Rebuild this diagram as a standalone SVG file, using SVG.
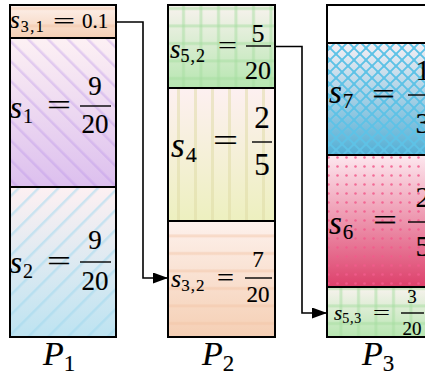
<svg xmlns="http://www.w3.org/2000/svg" width="425" height="378" viewBox="0 0 425 378">
<defs>
<linearGradient id="gPeach" x1="0" y1="0" x2="0" y2="1"><stop offset="0" stop-color="#fdf1ec"/><stop offset="1" stop-color="#f5cfb4"/></linearGradient>
<linearGradient id="gPurple" x1="0" y1="0" x2="0" y2="1"><stop offset="0" stop-color="#fdf1f4"/><stop offset="1" stop-color="#dcbfee"/></linearGradient>
<linearGradient id="gBlue" x1="0" y1="0" x2="0" y2="1"><stop offset="0" stop-color="#fdf0f2"/><stop offset="1" stop-color="#bde3f1"/></linearGradient>
<linearGradient id="gGreen" x1="0" y1="0" x2="0" y2="1"><stop offset="0" stop-color="#f8f2ee"/><stop offset="1" stop-color="#b6e6b0"/></linearGradient>
<linearGradient id="gYellow" x1="0" y1="0" x2="0" y2="1"><stop offset="0" stop-color="#fdf0f1"/><stop offset="1" stop-color="#edf0bf"/></linearGradient>
<linearGradient id="gCyan" x1="0" y1="0" x2="0" y2="1"><stop offset="0" stop-color="#f5eff4"/><stop offset="1" stop-color="#52afd5"/></linearGradient>
<linearGradient id="gRed" x1="0" y1="0" x2="0" y2="1"><stop offset="0" stop-color="#fde8ef"/><stop offset="1" stop-color="#dd406b"/></linearGradient>
<pattern id="pHoriz" width="20" height="17.5" patternUnits="userSpaceOnUse"><rect x="0" y="7" width="20" height="3" fill="#f2c4a4" opacity="0.45"/></pattern>
<pattern id="pBack" width="14" height="14" patternUnits="userSpaceOnUse" patternTransform="rotate(-45)"><rect x="5" y="0" width="2.5" height="14" fill="#b88ee8" opacity="0.35"/></pattern>
<pattern id="pFwd" width="14" height="14" patternUnits="userSpaceOnUse" patternTransform="rotate(45)"><rect x="5" y="0" width="2.5" height="14" fill="#9fd8ee" opacity="0.5"/></pattern>
<pattern id="pGrid" width="17.5" height="17.5" patternUnits="userSpaceOnUse"><rect x="7" y="0" width="3" height="17.5" fill="#a6dea0" opacity="0.5"/><rect x="0" y="7" width="17.5" height="3" fill="#a6dea0" opacity="0.5"/></pattern>
<pattern id="pVert" width="17" height="20" patternUnits="userSpaceOnUse"><rect x="7" y="0" width="3" height="20" fill="#dedaa4" opacity="0.5"/></pattern>
<pattern id="pCross" width="12" height="12" patternUnits="userSpaceOnUse"><path d="M0 6 L6 0 L12 6 L6 12 Z" fill="none" stroke="#5ec2e6" stroke-width="1.8"/><circle cx="6" cy="0" r="1.5" fill="#5ec2e6"/><circle cx="0" cy="6" r="1.5" fill="#5ec2e6"/><circle cx="12" cy="6" r="1.5" fill="#5ec2e6"/><circle cx="6" cy="12" r="1.5" fill="#5ec2e6"/></pattern>
<pattern id="pDots" width="9" height="9" patternUnits="userSpaceOnUse"><circle cx="4.5" cy="4.5" r="1.3" fill="#f25a8c" opacity="0.85"/></pattern>
<marker id="arr" viewBox="0 0 15 11" refX="14" refY="5.5" markerWidth="15" markerHeight="11" markerUnits="userSpaceOnUse" orient="auto"><path d="M0 0 L15 5.5 L0 11 Z" fill="#000"/></marker>
</defs>
<style>
.sec{stroke:#000;stroke-width:2}
text{font-family:'Liberation Serif','Times New Roman',serif;fill:#000;stroke:#000;stroke-width:0.15}
.i{font-style:italic}
.m{text-anchor:middle}
.fl{stroke:#000;stroke-width:1.4}
.conn{fill:none;stroke:#000;stroke-width:1.6}
</style>

<g id="P1">
  <g id="s31">
    <rect x="10" y="5" width="106" height="33" fill="url(#gPeach)"/>
    <rect x="10" y="5" width="106" height="33" fill="url(#pHoriz)" class="sec"/>
    <text x="10" y="28" font-size="25"><tspan class="i">s</tspan><tspan font-size="16" dy="4" dx="1" letter-spacing="1.5">3,1</tspan></text>
    <text x="53" y="28" font-size="20" textLength="22" lengthAdjust="spacingAndGlyphs">=</text>
    <text x="82" y="28" font-size="21">0.1</text>
  </g>
  <g id="s1">
    <rect x="10" y="38" width="106" height="149" fill="url(#gPurple)"/>
    <rect x="10" y="38" width="106" height="149" fill="url(#pBack)" class="sec"/>
    <text x="10" y="118" font-size="31"><tspan class="i">s</tspan><tspan font-size="20" dy="5" dx="1">1</tspan></text>
    <text x="47" y="114" font-size="27" textLength="24" lengthAdjust="spacingAndGlyphs">=</text>
    <text class="m" x="95" y="95" font-size="27">9</text>
    <line class="fl" x1="80" y1="106" x2="111" y2="106"/>
    <text class="m" x="95" y="133" font-size="27">20</text>
  </g>
  <g id="s2">
    <rect x="10" y="187" width="106" height="150" fill="url(#gBlue)"/>
    <rect x="10" y="187" width="106" height="150" fill="url(#pFwd)" class="sec"/>
    <text x="10" y="273" font-size="31"><tspan class="i">s</tspan><tspan font-size="20" dy="5" dx="1">2</tspan></text>
    <text x="47" y="269.5" font-size="27" textLength="24" lengthAdjust="spacingAndGlyphs">=</text>
    <text class="m" x="95" y="249" font-size="27">9</text>
    <line class="fl" x1="80" y1="262" x2="111" y2="262"/>
    <text class="m" x="95" y="290" font-size="27">20</text>
  </g>
  <text x="43" y="365" font-size="34"><tspan class="i">P</tspan><tspan font-size="23" dy="6">1</tspan></text>
</g>

<g id="P2">
  <g id="s52">
    <rect x="168" y="5" width="107" height="83" fill="url(#gGreen)"/>
    <rect x="168" y="5" width="107" height="83" fill="url(#pGrid)" class="sec"/>
    <text x="170" y="58" font-size="27"><tspan class="i">s</tspan><tspan font-size="18" dy="4" letter-spacing="1">5,2</tspan></text>
    <text x="218" y="54" font-size="25" textLength="19" lengthAdjust="spacingAndGlyphs">=</text>
    <text class="m" x="258" y="42" font-size="26">5</text>
    <line class="fl" x1="246" y1="46" x2="271" y2="46"/>
    <text class="m" x="258" y="79" font-size="26">20</text>
  </g>
  <g id="s4">
    <rect x="168" y="88" width="107" height="133" fill="url(#gYellow)"/>
    <rect x="168" y="88" width="107" height="133" fill="url(#pVert)" class="sec"/>
    <text x="171" y="157" font-size="35"><tspan class="i">s</tspan><tspan font-size="22" dy="5" dx="1">4</tspan></text>
    <text x="213" y="150.5" font-size="31" textLength="25" lengthAdjust="spacingAndGlyphs">=</text>
    <text class="m" x="262" y="128" font-size="31">2</text>
    <line class="fl" x1="252" y1="142" x2="272" y2="142"/>
    <text class="m" x="262" y="175" font-size="31">5</text>
  </g>
  <g id="s32">
    <rect x="168" y="221" width="107" height="116" fill="url(#gPeach)"/>
    <rect x="168" y="221" width="107" height="116" fill="url(#pHoriz)" class="sec"/>
    <text x="171" y="287" font-size="26"><tspan class="i">s</tspan><tspan font-size="17" dy="4" letter-spacing="1">3,2</tspan></text>
    <text x="217" y="284.5" font-size="23" textLength="17" lengthAdjust="spacingAndGlyphs">=</text>
    <text class="m" x="258" y="267" font-size="23">7</text>
    <line class="fl" x1="245" y1="278" x2="272" y2="278"/>
    <text class="m" x="258" y="302" font-size="23">20</text>
  </g>
  <text x="202" y="365" font-size="34"><tspan class="i">P</tspan><tspan font-size="23" dy="6">2</tspan></text>
</g>

<g id="P3">
  <g id="empty">
    <rect x="327" y="5" width="110" height="38" fill="#fff" class="sec"/>
  </g>
  <g id="s7">
    <rect x="327" y="43" width="110" height="112" fill="url(#gCyan)"/>
    <rect x="327" y="43" width="110" height="112" fill="url(#pCross)" class="sec"/>
    <text x="329" y="103" font-size="33"><tspan class="i">s</tspan><tspan font-size="21" dy="5" dx="1">7</tspan></text>
    <text x="372" y="104" font-size="30" textLength="23" lengthAdjust="spacingAndGlyphs">=</text>
    <text class="m" x="423" y="80" font-size="30">1</text>
    <line class="fl" x1="408" y1="95" x2="440" y2="95"/>
    <text class="m" x="423" y="133" font-size="30">3</text>
  </g>
  <g id="s6">
    <rect x="327" y="155" width="110" height="132" fill="url(#gRed)"/>
    <rect x="327" y="155" width="110" height="132" fill="url(#pDots)" class="sec"/>
    <text x="329" y="234" font-size="33"><tspan class="i">s</tspan><tspan font-size="21" dy="5" dx="1">6</tspan></text>
    <text x="373" y="230" font-size="30" textLength="24" lengthAdjust="spacingAndGlyphs">=</text>
    <text class="m" x="423" y="207" font-size="30">2</text>
    <line class="fl" x1="408" y1="222" x2="440" y2="222"/>
    <text class="m" x="423" y="256" font-size="30">5</text>
  </g>
  <g id="s53">
    <rect x="327" y="287" width="110" height="50" fill="url(#gGreen)"/>
    <rect x="327" y="287" width="110" height="50" fill="url(#pGrid)" class="sec"/>
    <text x="334" y="320" font-size="21"><tspan class="i">s</tspan><tspan font-size="14" dy="3" letter-spacing="0.8">5,3</tspan></text>
    <text x="373" y="318.5" font-size="19" textLength="17" lengthAdjust="spacingAndGlyphs">=</text>
    <text class="m" x="412" y="303" font-size="19">3</text>
    <line class="fl" x1="401" y1="313" x2="424" y2="313"/>
    <text class="m" x="412" y="335" font-size="19">20</text>
  </g>
  <text x="362" y="365" font-size="34"><tspan class="i">P</tspan><tspan font-size="23" dy="6">3</tspan></text>
</g>

<g id="connectors">
  <path class="conn" d="M116 22 H143 V278 H167" marker-end="url(#arr)"/>
  <path class="conn" d="M275 46.5 H302 V313 H326" marker-end="url(#arr)"/>
</g>
</svg>
